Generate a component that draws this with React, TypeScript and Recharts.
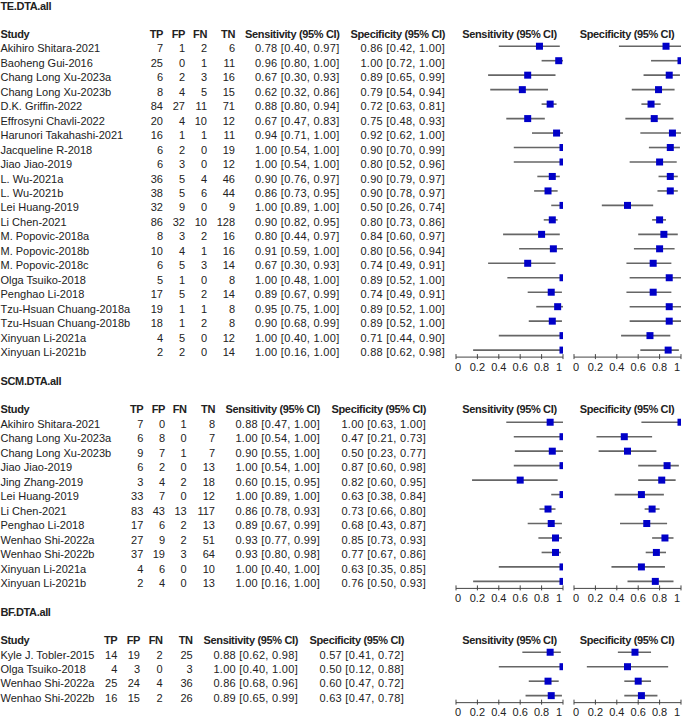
import React from "react";
import { ScatterChart, Scatter, XAxis, YAxis, ErrorBar } from "recharts";

// ---- data ----

const axisTicks = [0, 0.2, 0.4, 0.6, 0.8, 1];
const columnHeads = ["TP", "FP", "FN", "TN", "Sensitivity (95% CI)", "Specificity (95% CI)"];

const teStudies = [
  "Akihiro Shitara-2021",
  "Baoheng Gui-2016",
  "Chang Long Xu-2023a",
  "Chang Long Xu-2023b",
  "D.K. Griffin-2022",
  "Effrosyni Chavli-2022",
  "Harunori Takahashi-2021",
  "Jacqueline R-2018",
  "Jiao Jiao-2019",
  "L. Wu-2021a",
  "L. Wu-2021b",
  "Lei Huang-2019",
  "Li Chen-2021",
  "M. Popovic-2018a",
  "M. Popovic-2018b",
  "M. Popovic-2018c",
  "Olga Tsuiko-2018",
  "Penghao Li-2018",
  "Tzu-Hsuan Chuang-2018a",
  "Tzu-Hsuan Chuang-2018b",
  "Xinyuan Li-2021a",
  "Xinyuan Li-2021b",
];
// TP, FP, FN, TN
const teCounts = [
  [7, 1, 2, 6], [25, 0, 1, 11], [6, 2, 3, 16], [8, 4, 5, 15], [84, 27, 11, 71],
  [20, 4, 10, 12], [16, 1, 1, 11], [6, 2, 0, 19], [6, 3, 0, 12], [36, 5, 4, 46],
  [38, 5, 6, 44], [32, 9, 0, 9], [86, 32, 10, 128], [8, 3, 2, 16], [10, 4, 1, 16],
  [6, 5, 3, 14], [5, 1, 0, 8], [17, 5, 2, 14], [19, 1, 1, 8], [18, 1, 2, 8],
  [4, 5, 0, 12], [2, 2, 0, 14],
];
// estimate, lower, upper
const teSens = [
  [0.78, 0.4, 0.97], [0.96, 0.8, 1.0], [0.67, 0.3, 0.93], [0.62, 0.32, 0.86], [0.88, 0.8, 0.94],
  [0.67, 0.47, 0.83], [0.94, 0.71, 1.0], [1.0, 0.54, 1.0], [1.0, 0.54, 1.0], [0.9, 0.76, 0.97],
  [0.86, 0.73, 0.95], [1.0, 0.89, 1.0], [0.9, 0.82, 0.95], [0.8, 0.44, 0.97], [0.91, 0.59, 1.0],
  [0.67, 0.3, 0.93], [1.0, 0.48, 1.0], [0.89, 0.67, 0.99], [0.95, 0.75, 1.0], [0.9, 0.68, 0.99],
  [1.0, 0.4, 1.0], [1.0, 0.16, 1.0],
];
const teSpec = [
  [0.86, 0.42, 1.0], [1.0, 0.72, 1.0], [0.89, 0.65, 0.99], [0.79, 0.54, 0.94], [0.72, 0.63, 0.81],
  [0.75, 0.48, 0.93], [0.92, 0.62, 1.0], [0.9, 0.7, 0.99], [0.8, 0.52, 0.96], [0.9, 0.79, 0.97],
  [0.9, 0.78, 0.97], [0.5, 0.26, 0.74], [0.8, 0.73, 0.86], [0.84, 0.6, 0.97], [0.8, 0.56, 0.94],
  [0.74, 0.49, 0.91], [0.89, 0.52, 1.0], [0.74, 0.49, 0.91], [0.89, 0.52, 1.0], [0.89, 0.52, 1.0],
  [0.71, 0.44, 0.9], [0.88, 0.62, 0.98],
];

const scmStudies = [
  "Akihiro Shitara-2021",
  "Chang Long Xu-2023a",
  "Chang Long Xu-2023b",
  "Jiao Jiao-2019",
  "Jing Zhang-2019",
  "Lei Huang-2019",
  "Li Chen-2021",
  "Penghao Li-2018",
  "Wenhao Shi-2022a",
  "Wenhao Shi-2022b",
  "Xinyuan Li-2021a",
  "Xinyuan Li-2021b",
];
const scmCounts = [
  [7, 0, 1, 8], [6, 8, 0, 7], [9, 7, 1, 7], [6, 2, 0, 13], [3, 4, 2, 18], [33, 7, 0, 12],
  [83, 43, 13, 117], [17, 6, 2, 13], [27, 9, 2, 51], [37, 19, 3, 64], [4, 6, 0, 10], [2, 4, 0, 13],
];
const scmSens = [
  [0.88, 0.47, 1.0], [1.0, 0.54, 1.0], [0.9, 0.55, 1.0], [1.0, 0.54, 1.0], [0.6, 0.15, 0.95],
  [1.0, 0.89, 1.0], [0.86, 0.78, 0.93], [0.89, 0.67, 0.99], [0.93, 0.77, 0.99], [0.93, 0.8, 0.98],
  [1.0, 0.4, 1.0], [1.0, 0.16, 1.0],
];
const scmSpec = [
  [1.0, 0.63, 1.0], [0.47, 0.21, 0.73], [0.5, 0.23, 0.77], [0.87, 0.6, 0.98], [0.82, 0.6, 0.95],
  [0.63, 0.38, 0.84], [0.73, 0.66, 0.8], [0.68, 0.43, 0.87], [0.85, 0.73, 0.93], [0.77, 0.67, 0.86],
  [0.63, 0.35, 0.85], [0.76, 0.5, 0.93],
];

const bfStudies = ["Kyle J. Tobler-2015", "Olga Tsuiko-2018", "Wenhao Shi-2022a", "Wenhao Shi-2022b"];
const bfCounts = [[14, 19, 2, 25], [4, 3, 0, 3], [25, 24, 4, 36], [16, 15, 2, 26]];
const bfSens = [[0.88, 0.62, 0.98], [1.0, 0.4, 1.0], [0.86, 0.68, 0.96], [0.89, 0.65, 0.99]];
const bfSpec = [[0.57, 0.41, 0.72], [0.5, 0.12, 0.88], [0.6, 0.47, 0.72], [0.63, 0.47, 0.78]];

// ---- layout ----

const ROW = 14.47;
const AXIS_GAP = 7;
const SENS_X: [number, number] = [456, 563];
const SPEC_X: [number, number] = [573.5, 680.5];
const FONT = "'Liberation Sans', Arial, sans-serif";
const TEXT = "#222";

const sections = [
  { title: "TE.DTA.all", studies: teStudies, counts: teCounts, sens: teSens, spec: teSpec, firstY: 46.3, cols: [163, 185, 207, 235, 339.5, 445] },
  { title: "SCM.DTA.all", studies: scmStudies, counts: scmCounts, sens: scmSens, spec: scmSpec, firstY: 422, cols: [143.3, 165, 186.7, 215, 320, 426] },
  { title: "BF.DTA.all", studies: bfStudies, counts: bfCounts, sens: bfSens, spec: bfSpec, firstY: 652.5, cols: [117.3, 140, 162.7, 192.7, 298, 404] },
];

const ci = (v: number[]) => `${v[0].toFixed(2)} [${v[1].toFixed(2)}, ${v[2].toFixed(2)}]`;

function Square(props: any) {
  const { cx, cy } = props;
  if (cx == null || cy == null) return null;
  return <rect x={cx - 3.5} y={cy - 3.5} width={7} height={7} fill="#0000c8" />;
}

function AxisTick(props: any) {
  const { x, y, payload } = props;
  const v = payload.value;
  const anchor = v === 0 ? "start" : v === 1 ? "end" : "middle";
  const dx = v === 0 || v === 1 ? -1 : 0;
  return (
    <g>
      <line x1={x} x2={x} y1={y - 3} y2={y + 2} stroke="#444" />
      <text x={x + dx} y={y + 9.5} textAnchor={anchor} dominantBaseline="central" fontSize={11} fontFamily={FONT} fill={TEXT}>
        {String(v)}
      </text>
    </g>
  );
}

function ForestPanel({ values, range, firstY }: { values: number[][]; range: [number, number]; firstY: number }) {
  const n = values.length;
  const domainMax = n - 1 + AXIS_GAP / ROW;
  const plotH = (domainMax + 0.5) * ROW;
  const mTop = 4;
  const mLeft = 8;
  const mRight = 4;
  const axisH = 18;
  const width = mLeft + (range[1] - range[0]) + mRight;
  const height = mTop + plotH + axisH;
  const data = values.map(([est, lo, hi], i) => ({ row: i, est, err: [est - lo, hi - est] }));
  return (
    <div style={{ position: "absolute", left: range[0] - mLeft, top: firstY - 0.5 * ROW - mTop }}>
      <ScatterChart width={width} height={height} margin={{ top: mTop, right: mRight, bottom: 0, left: mLeft }}>
        <XAxis
          type="number"
          dataKey="est"
          domain={[0, 1]}
          ticks={axisTicks}
          interval={0}
          allowDataOverflow
          height={axisH}
          tickSize={0}
          tickMargin={0}
          tickLine={false}
          axisLine={{ stroke: "#444" }}
          tick={(p: any) => <AxisTick {...p} />}
        />
        <YAxis type="number" dataKey="row" domain={[-0.5, domainMax]} reversed hide allowDataOverflow />
        <Scatter data={data} shape={Square} isAnimationActive={false}>
          <ErrorBar dataKey="err" direction="x" width={0} stroke="#666" strokeWidth={1.6} isAnimationActive={false} />
        </Scatter>
      </ScatterChart>
    </div>
  );
}

function TableText() {
  const bold = { fontWeight: 700, letterSpacing: "-0.35px" } as const;
  return (
    <svg width={685} height={718} style={{ position: "absolute", left: 0, top: 0 }} fontFamily={FONT} fontSize={11} fill={TEXT}>
      {sections.map((s) => {
        const textY = s.firstY + 2;
        const headY = textY - 14.8;
        const titleY = headY - 27.8;
        return (
          <g key={s.title}>
            <text x={0.5} y={titleY} dominantBaseline="central" style={bold}>{s.title}</text>
            <text x={0.5} y={headY} dominantBaseline="central" style={bold}>Study</text>
            {columnHeads.map((h, j) => (
              <text key={h} x={s.cols[j]} y={headY} textAnchor="end" dominantBaseline="central" style={bold}>{h}</text>
            ))}
            <text x={(SENS_X[0] + SENS_X[1]) / 2} y={headY} textAnchor="middle" dominantBaseline="central" style={bold}>{columnHeads[4]}</text>
            <text x={(SPEC_X[0] + SPEC_X[1]) / 2} y={headY} textAnchor="middle" dominantBaseline="central" style={bold}>{columnHeads[5]}</text>
            {s.studies.map((name, i) => {
              const y = textY + i * ROW;
              return (
                <g key={name}>
                  <text x={0.5} y={y} dominantBaseline="central">{name}</text>
                  {s.counts[i].map((c, j) => (
                    <text key={j} x={s.cols[j]} y={y} textAnchor="end" dominantBaseline="central">{c}</text>
                  ))}
                  <text x={s.cols[4]} y={y} textAnchor="end" dominantBaseline="central" letterSpacing="0.3px">{ci(s.sens[i])}</text>
                  <text x={s.cols[5]} y={y} textAnchor="end" dominantBaseline="central" letterSpacing="0.3px">{ci(s.spec[i])}</text>
                </g>
              );
            })}
          </g>
        );
      })}
    </svg>
  );
}

export default function App() {
  return (
    <div style={{ position: "absolute", left: 0, top: 0, width: 685, height: 718, background: "#fff", overflow: "hidden" }}>
      <TableText />
      {sections.map((s) => (
        <React.Fragment key={s.title}>
          <ForestPanel values={s.sens} range={SENS_X} firstY={s.firstY} />
          <ForestPanel values={s.spec} range={SPEC_X} firstY={s.firstY} />
        </React.Fragment>
      ))}
    </div>
  );
}
